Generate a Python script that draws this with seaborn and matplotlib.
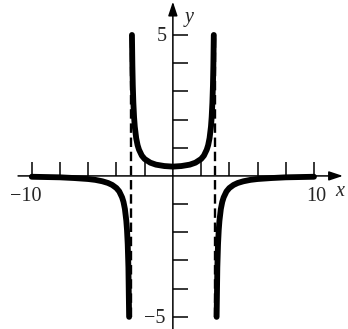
import numpy as np
import pandas as pd
import matplotlib
matplotlib.use("Agg")
import matplotlib.pyplot as plt
import seaborn as sns

# puntos (rama izquierda, central y derecha)
x_left = [-10, -9, -8, -7, -6, -5.5, -5, -4.6, -4.3, -4.0, -3.8, -3.6, -3.5, -3.4, -3.3, -3.25, -3.2, -3.15, -3.1]
y_left = [-0.03, -0.04, -0.05, -0.075, -0.11, -0.14, -0.19, -0.25, -0.32, -0.43, -0.55, -0.76, -0.92, -1.17, -1.59, -1.92, -2.42, -3.25, -5.0]

x_mid = [-2.9, -2.87, -2.84, -2.8, -2.75, -2.7, -2.6, -2.5, -2.4, -2.2, -2.0, -1.6, -1.2, -0.6, 0,
         0.6, 1.2, 1.6, 2.0, 2.2, 2.4, 2.5, 2.6, 2.7, 2.75, 2.8, 2.84, 2.87, 2.9]
y_mid = [5.0, 3.93, 3.21, 2.59, 2.09, 1.75, 1.34, 1.09, 0.93, 0.72, 0.6, 0.47, 0.40, 0.35, 0.33,
         0.35, 0.40, 0.47, 0.6, 0.72, 0.93, 1.09, 1.34, 1.75, 2.09, 2.59, 3.21, 3.93, 5.0]

x_right = [3.1, 3.15, 3.2, 3.25, 3.3, 3.4, 3.5, 3.6, 3.8, 4.0, 4.3, 4.6, 5, 5.5, 6, 7, 8, 9, 10]
y_right = [-5.0, -3.25, -2.42, -1.92, -1.59, -1.17, -0.92, -0.76, -0.55, -0.43, -0.32, -0.25, -0.19, -0.14, -0.11, -0.075, -0.05, -0.04, -0.03]

asintotas = [-3, 3]
x_ticks = [-10, -8, -6, -4, -2, 2, 4, 6, 8, 10]
y_ticks = [-5, -4, -3, -2, -1, 1, 2, 3, 4, 5]

sns.set_style("white")
plt.rcParams['font.family'] = ['Liberation Serif', 'DejaVu Serif']

fig = plt.figure(figsize=(3.48, 3.29), dpi=100)
ax = fig.add_axes([0, 0, 1, 1])
ax.set_xlim(-12.25, 12.41)
ax.set_ylim(-5.43, 6.24)

# asintotas verticales
ax.vlines(asintotas, -5, 5, colors='k', linestyles=(0, (4, 2)), lw=1.7, zorder=2)

# ramas de la curva
for xs, ys in [(x_left, y_left), (x_mid, y_mid), (x_right, y_right)]:
    df = pd.DataFrame({'x': xs, 'y': ys})
    sns.lineplot(data=df, x='x', y='y', ax=ax, color='k', lw=4.2,
                 solid_capstyle='round', zorder=3)

# ejes con flechas
for s in ax.spines.values():
    s.set_visible(False)
ax.spines['left'].set_position(('data', 0))
ax.spines['bottom'].set_position(('data', 0))
flecha = dict(arrowstyle='-|>,head_length=0.6,head_width=0.2', color='k', lw=1.1,
              mutation_scale=14, shrinkA=0, shrinkB=0)
ax.annotate('', xy=(12.05, 0), xytext=(-10.97, 0), arrowprops=flecha)
ax.annotate('', xy=(0, 6.18), xytext=(0, -5.43), arrowprops=flecha)

ax.set_xticks(x_ticks)
ax.set_yticks(y_ticks)
ax.tick_params(axis='x', direction='in', length=10, width=1.1, bottom=True,
               labelbottom=False, color='k')
ax.tick_params(axis='y', direction='in', length=10.8, width=1.1, left=True,
               labelleft=False, color='k')
ax.set_xlabel('')
ax.set_ylabel('')

# etiquetas
fs = 14.5
ax.text(-10.4, -0.74, '\u221210', fontsize=fs, ha='center', va='center')
ax.text(10.14, -0.74, '10', fontsize=fs, ha='center', va='center')
ax.text(11.8, -0.55, 'x', fontsize=fs, style='italic', ha='center', va='center')
ax.text(1.14, 5.62, 'y', fontsize=fs, style='italic', ha='center', va='center')
ax.text(-0.8, 4.93, '5', fontsize=fs, ha='center', va='center')
ax.text(-1.3, -5.04, '\u22125', fontsize=fs, ha='center', va='center')

plt.savefig('out.png', dpi=100)
